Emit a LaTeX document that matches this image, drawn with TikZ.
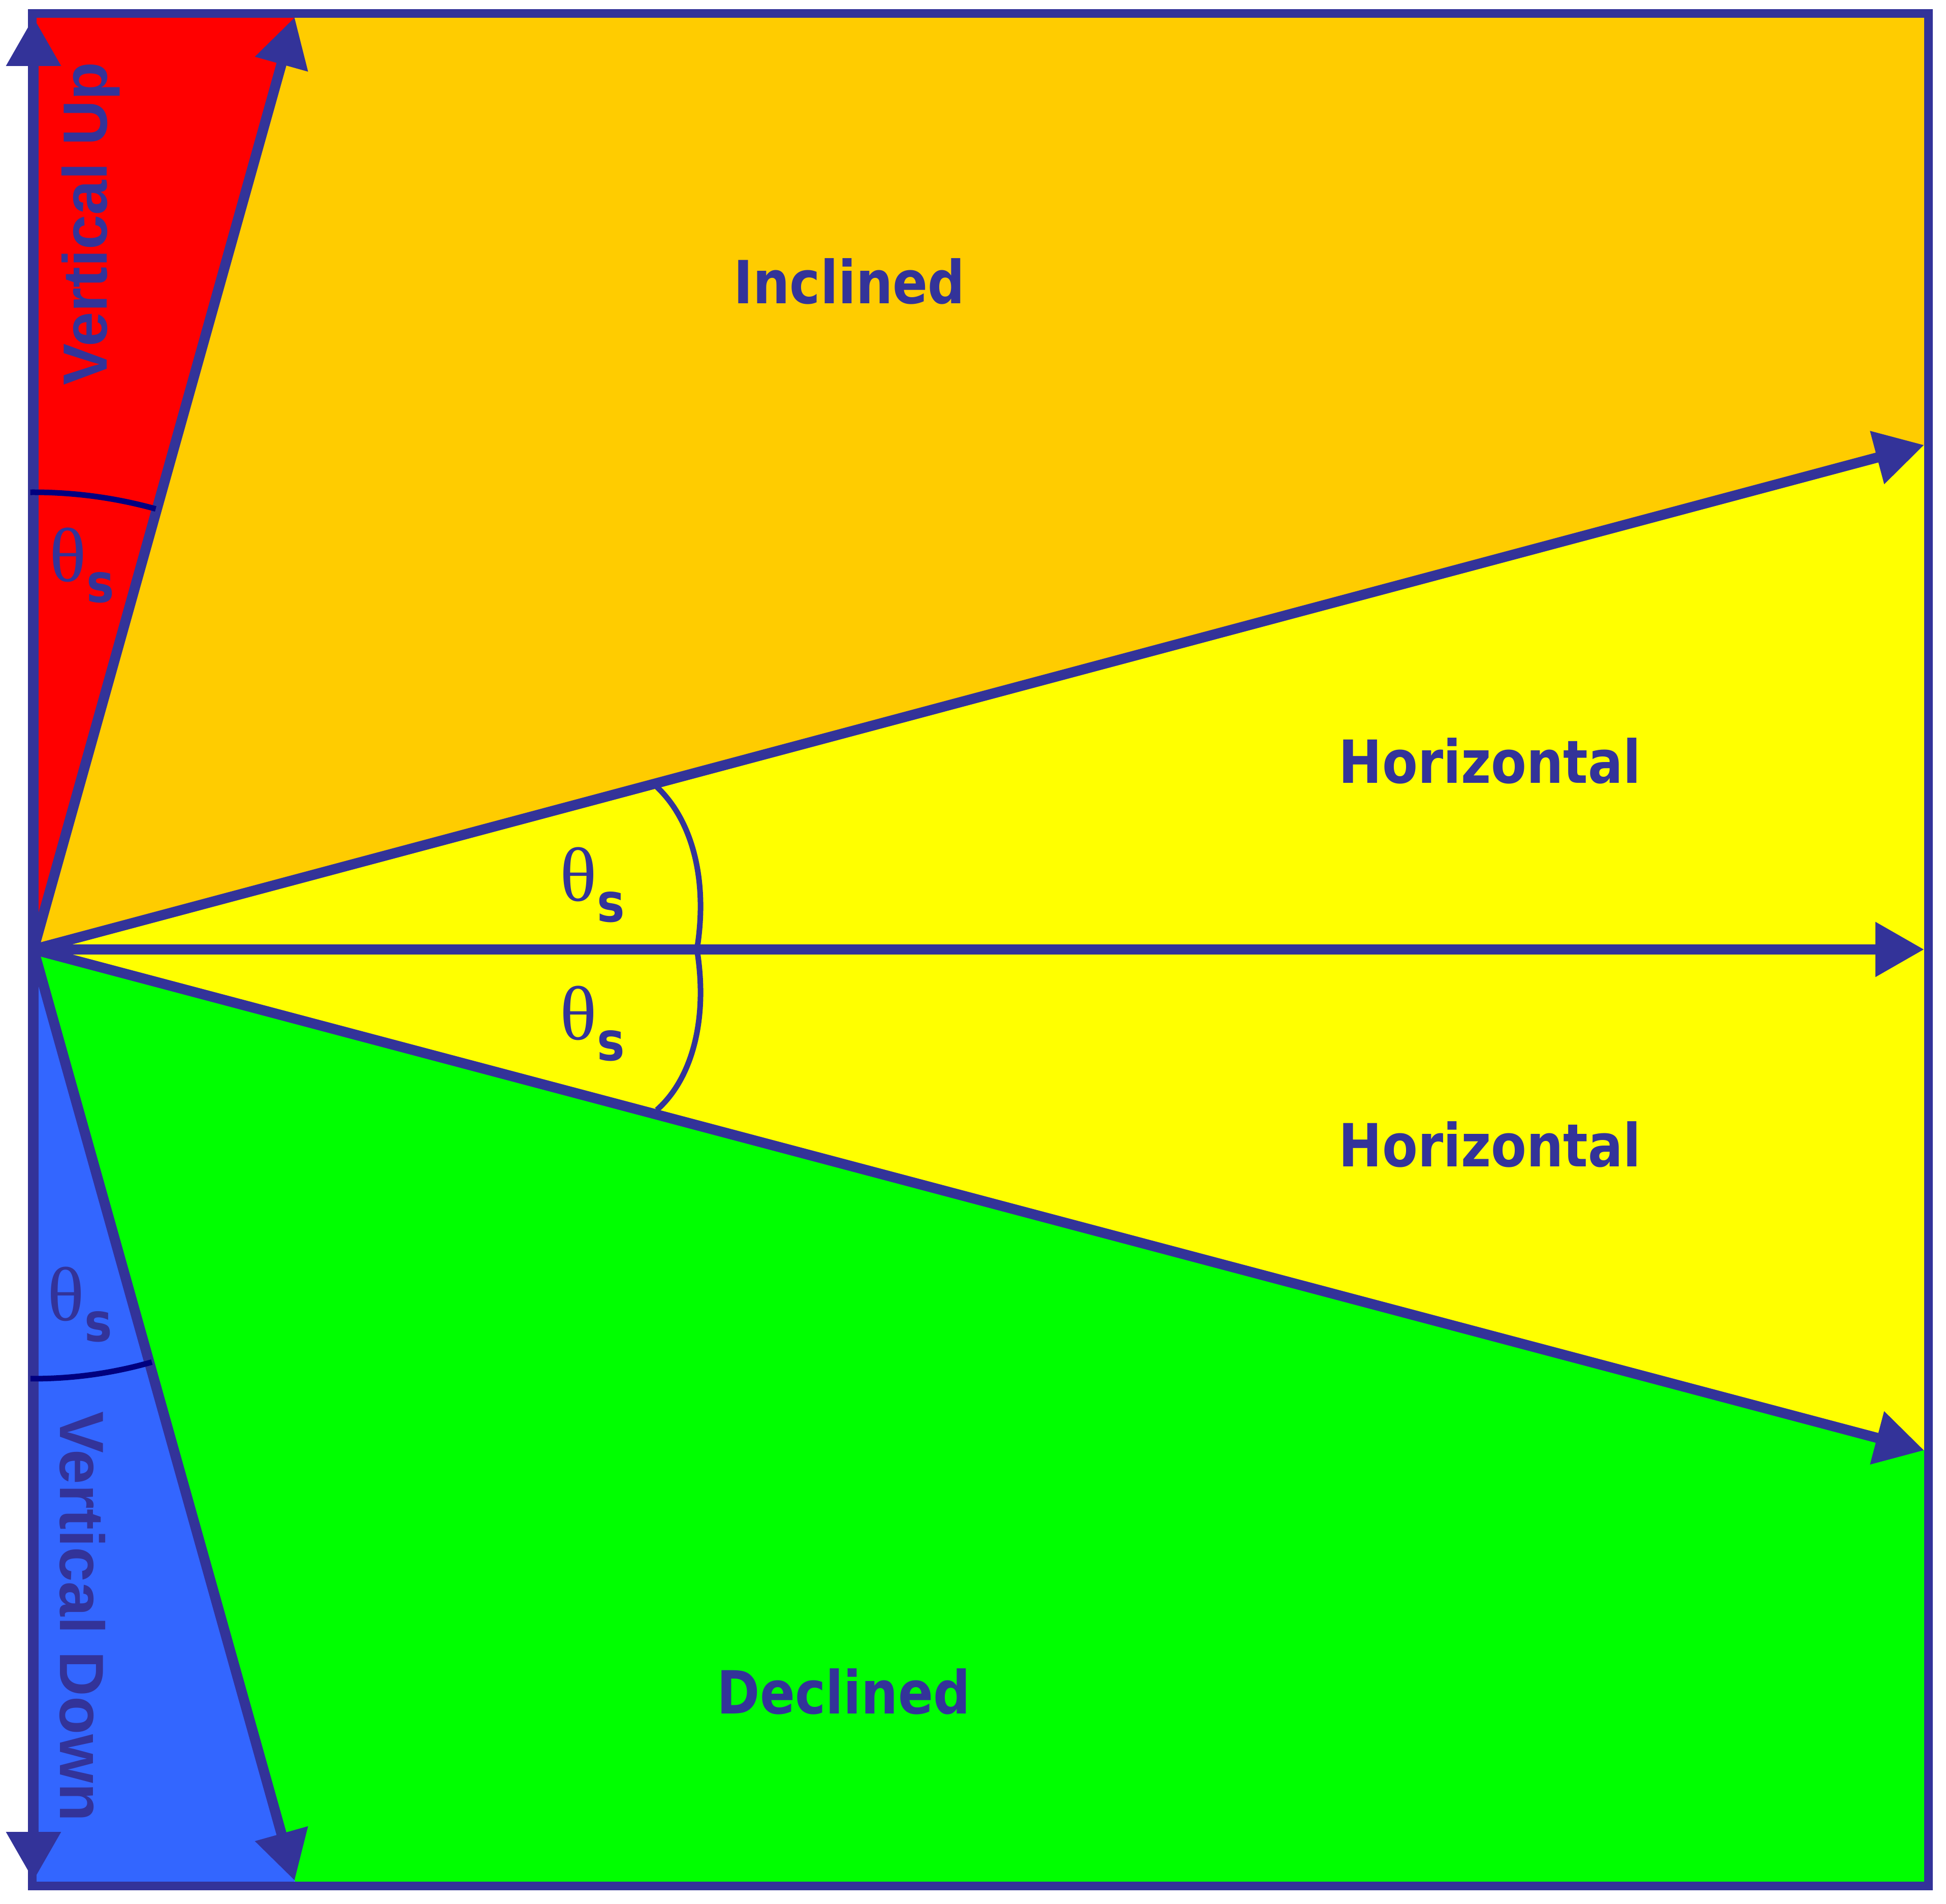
\documentclass[tikz,border=0pt]{standalone}
\usepackage{fontspec}
\usepackage{tikz}
\usetikzlibrary{arrows.meta,calc}
\newfontfamily\labelfont[FakeStretch=0.87]{DejaVu Sans}
\newfontfamily\vertfont{Liberation Sans}
\newfontfamily\greekfont{Liberation Serif}
\definecolor{lineBlue}{HTML}{333399}
\definecolor{arcNavy}{HTML}{000080}
\definecolor{upRed}{HTML}{FF0000}
\definecolor{incOrange}{HTML}{FFCC00}
\definecolor{horYellow}{HTML}{FFFF00}
\definecolor{decGreen}{HTML}{00FF00}
\definecolor{downBlue}{HTML}{3366FF}
\newcommand{\thetaS}{{\greekfont\fontsize{43}{50}\selectfont θ}\raisebox{-0.41cm}{\labelfont\bfseries\fontsize{30}{36}\selectfont s}}

\begin{document}
\begin{tikzpicture}[dir/.style={lineBlue, line width=0.2cm, -{Triangle[length=0.96cm,width=1.03cm]}},
    zone/.style={lineBlue, font=\labelfont\bfseries\fontsize{33.3}{40}\selectfont, anchor=base, inner sep=0},
    vzone/.style={lineBlue, font=\vertfont\bfseries\fontsize{35}{42}\selectfont, anchor=base west, inner sep=0},
    anglab/.style={lineBlue, anchor=base west, inner sep=0}]
    \useasboundingbox (0,0) rectangle (38.31,37.47);
    % apex and arrow tips
    \coordinate (O) at (0.66,18.78);
    \coordinate (vu) at (0.66,37.13);
    \coordinate (su) at (5.80,37.13);
    \coordinate (iu) at (37.88,28.71);
    \coordinate (h) at (37.88,18.78);
    \coordinate (id) at (37.88,8.92);
    \coordinate (sd) at (5.80,0.45);
    \coordinate (vd) at (0.66,0.45);
    % points on the frame
    \coordinate (ftl) at (0.636,37.205);
    \coordinate (ftr) at (37.96,37.205);
    \coordinate (fbr) at (37.96,0.35);
    \coordinate (fbl) at (0.636,0.35);
    \coordinate (sut) at (5.82,37.205);
    \coordinate (iur) at (37.96,28.73);
    \coordinate (idr) at (37.96,8.90);
    \coordinate (sdb) at (5.83,0.35);
    % zones
    \fill[upRed] (O) -- (ftl) -- (sut) -- cycle;
    \fill[incOrange] (O) -- (sut) -- (ftr) -- (iur) -- cycle;
    \fill[horYellow] (O) -- (iur) -- (idr) -- cycle;
    \fill[decGreen] (O) -- (idr) -- (fbr) -- (sdb) -- cycle;
    \fill[downBlue] (O) -- (sdb) -- (fbl) -- cycle;
    % directions
    \draw[dir] (O) -- (vu);
    \draw[dir] (O) -- (su);
    \draw[dir] (O) -- (iu);
    \draw[dir] (O) -- (h);
    \draw[dir] (O) -- (id);
    \draw[dir] (O) -- (sd);
    \draw[dir] (O) -- (vd);
    \draw[lineBlue, line width=0.17cm] (ftl) rectangle (fbr);
    % angle marks
    \draw[arcNavy, line width=0.11cm] ($(O)+(90.4:9.0)$) arc[start angle=90.4, end angle=74.5, radius=9.0];
    \draw[arcNavy, line width=0.11cm] ($(O)+(269.6:8.45)$) arc[start angle=269.6, end angle=286, radius=8.45];
    \draw[lineBlue, line width=0.11cm] (12.93,21.98) .. controls (13.6,21.35) and (13.95,20.2) .. (13.72,18.78)
        .. controls (13.95,17.36) and (13.6,16.21) .. (12.93,15.62);
    % labels
    \node[zone] (inc) at (16.72,31.49) {Inclined};
    \node[zone] (hup) at (29.33,22.05) {Horizontal};
    \node[zone] (hdn) at (29.33,14.50) {Horizontal};
    \node[zone] (dec) at (16.61,3.73) {Declined};
    \node[vzone, rotate=90] (vup) at (2.10,29.88) {Vertical Up};
    \node[vzone, rotate=-90] (vdn) at (1.18,9.69) {Vertical Down};
    \node[anglab] (th1) at (0.97,26.02) {\thetaS};
    \node[anglab] (th2) at (11.02,19.73) {\thetaS};
    \node[anglab] (th3) at (11.02,17.00) {\thetaS};
    \node[anglab] (th4) at (0.93,11.47) {\thetaS};
\end{tikzpicture}
\end{document}
